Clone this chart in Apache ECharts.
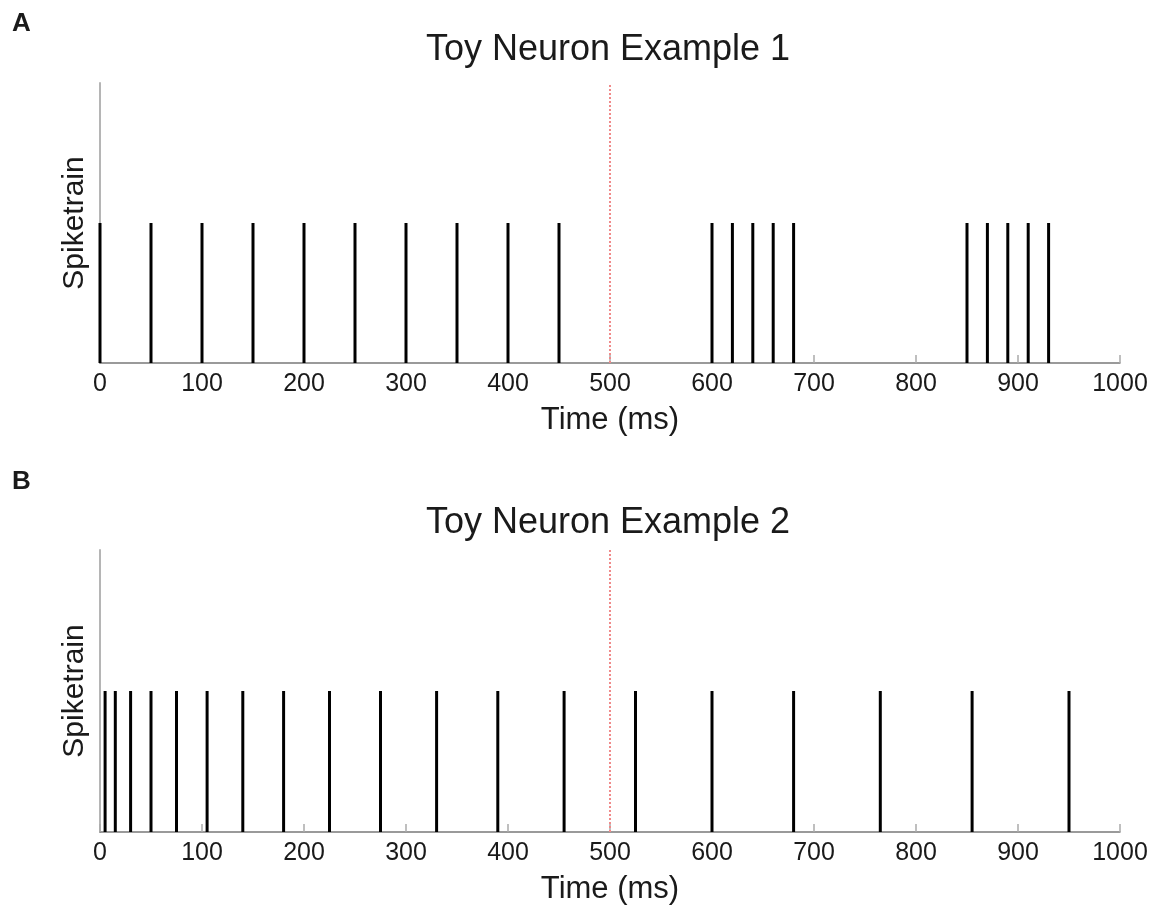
<!DOCTYPE html>
<html>
<head>
<meta charset="utf-8">
<script src="https://cdn.jsdelivr.net/npm/echarts@6/dist/echarts.min.js"></script>
<style>
  html, body { margin: 0; padding: 0; background: #fff; }
  #chart { width: 1166px; height: 908px; }
</style>
</head>
<body>
<div id="chart"></div>
<script>
// spike times (ms)
const spikesA = [0, 50, 100, 150, 200, 250, 300, 350, 400, 450, 600, 620, 640, 660, 680, 850, 870, 890, 910, 930];
const spikesB = [5, 15, 30, 50, 75, 105, 140, 180, 225, 275, 330, 390, 455, 525, 600, 680, 765, 855, 950];
const stimTime = 500;
const xTicks = [0, 100, 200, 300, 400, 500, 600, 700, 800, 900, 1000];
const titles = ['Toy Neuron Example 1', 'Toy Neuron Example 2'];
const panelLetters = ['A', 'B'];

const font = 'Liberation Sans, Arial, Helvetica, sans-serif';
const txt = '#1a1a1a';

const xAxisBase = (gridIndex) => ({
  type: 'value',
  gridIndex: gridIndex,
  min: xTicks[0],
  max: xTicks[xTicks.length - 1],
  interval: xTicks[1] - xTicks[0],
  name: 'Time (ms)',
  nameLocation: 'middle',
  nameGap: 42,
  nameTextStyle: { fontSize: 31, color: txt, fontFamily: font },
  axisLine: { lineStyle: { color: '#7a7a7a', width: 1.5 } },
  axisTick: { inside: true, length: 8, lineStyle: { color: '#aaaaaa', width: 1.5 } },
  axisLabel: { fontSize: 25, color: txt, fontFamily: font, margin: 9, formatter: v => String(v) },
  splitLine: { show: false }
});

const yAxisBase = (gridIndex) => ({
  type: 'value',
  gridIndex: gridIndex,
  min: 0,
  max: 2,
  name: 'Spiketrain',
  nameLocation: 'middle',
  nameGap: 10,
  nameTextStyle: { fontSize: 30, color: txt, fontFamily: font },
  axisLine: { show: true, lineStyle: { color: '#b5b5b5', width: 2 } },
  axisTick: { show: false },
  axisLabel: { show: false },
  splitLine: { show: false }
});

const spikeSeries = (spikes, idx) => ({
  type: 'bar',
  xAxisIndex: idx,
  yAxisIndex: idx,
  barWidth: 3,
  clip: false,
  itemStyle: { color: '#000' },
  data: spikes.map(t => [t, 1]),
  markLine: {
    silent: true,
    symbol: 'none',
    label: { show: false },
    lineStyle: { color: '#f08a8a', type: 'dotted', width: 2 },
    data: [{ xAxis: stimTime }]
  }
});

const chart = echarts.init(document.getElementById('chart'));
chart.setOption({
  animation: false,
  backgroundColor: '#fff',
  title: [
    { text: panelLetters[0], left: 12, top: 11, padding: 0, textStyle: { fontSize: 26, fontWeight: 'bold', color: txt, fontFamily: font } },
    { text: titles[0], left: 608, top: 32, padding: 0, textAlign: 'center', textStyle: { fontSize: 36, fontWeight: 'normal', color: txt, fontFamily: font } },
    { text: panelLetters[1], left: 12, top: 469, padding: 0, textStyle: { fontSize: 26, fontWeight: 'bold', color: txt, fontFamily: font } },
    { text: titles[1], left: 608, top: 505, padding: 0, textAlign: 'center', textStyle: { fontSize: 36, fontWeight: 'normal', color: txt, fontFamily: font } }
  ],
  grid: [
    { left: 100, top: 83, width: 1020, height: 280 },
    { left: 100, top: 550, width: 1020, height: 282 }
  ],
  xAxis: [xAxisBase(0), xAxisBase(1)],
  yAxis: [yAxisBase(0), yAxisBase(1)],
  series: [spikeSeries(spikesA, 0), spikeSeries(spikesB, 1)]
});
</script>
</body>
</html>
